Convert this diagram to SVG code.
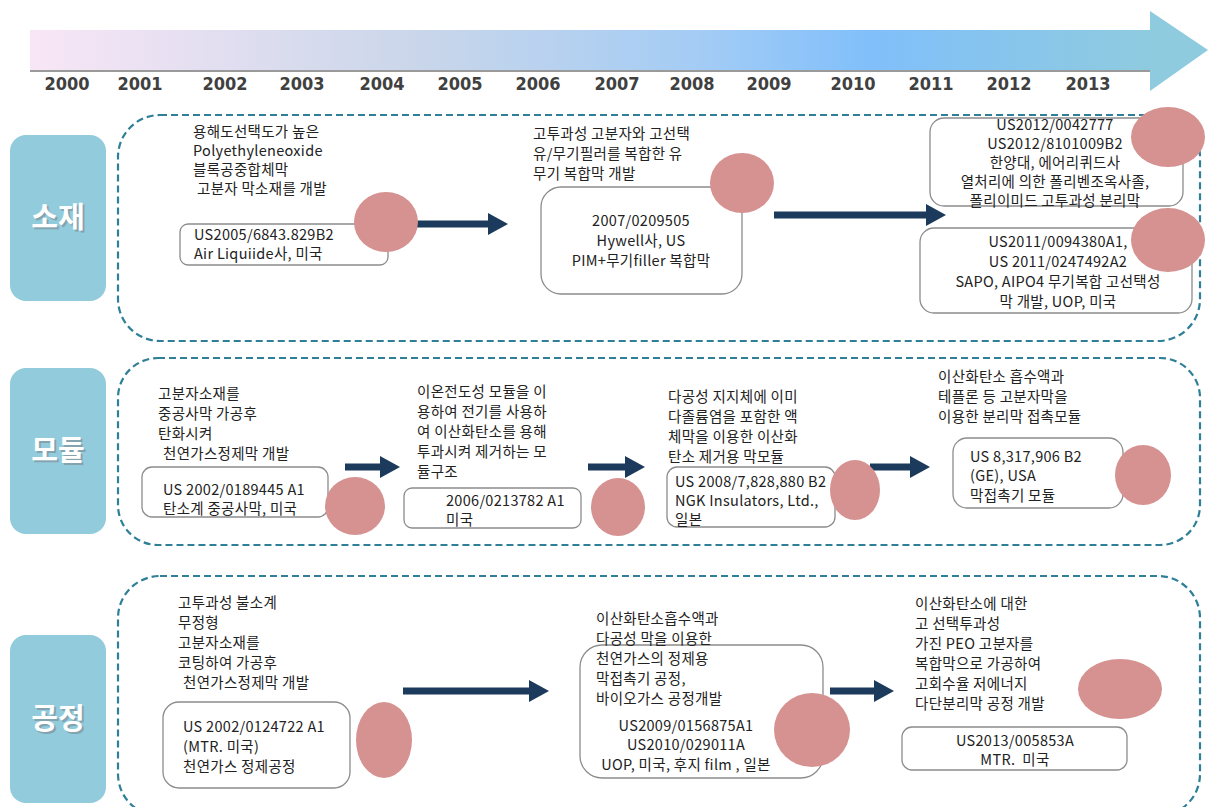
<svg xmlns="http://www.w3.org/2000/svg" width="1208" height="807" viewBox="0 0 1208 807">
<defs>
<linearGradient id="tl" x1="0" y1="0" x2="1" y2="0">
<stop offset="0" stop-color="#f8e6f6"/>
<stop offset="0.35" stop-color="#c9d6ea"/>
<stop offset="0.6" stop-color="#a3ccf5"/>
<stop offset="0.75" stop-color="#80bffa"/>
<stop offset="1" stop-color="#8fcbdf"/>
</linearGradient>
<marker id="ah" markerUnits="userSpaceOnUse" markerWidth="20" markerHeight="22" refX="2" refY="11" orient="auto">
<path d="M0,0 L20,11 L0,22 Z" fill="#1b3a5c"/>
</marker>
</defs>
<style>
.yr{font-family:"DejaVu Sans Condensed","Liberation Sans",sans-serif;font-weight:bold;font-stretch:condensed;font-size:18px;fill:#404040;text-anchor:middle}
.cat{fill:#92cbdc}
.catt{font-family:"Noto Sans CJK KR",sans-serif;font-weight:bold;font-size:29px;fill:#ffffff;text-anchor:middle}
.cats{font-family:"Noto Sans CJK KR",sans-serif;font-weight:bold;font-size:29px;fill:#7a8a90;text-anchor:middle;opacity:0.6}
.grp{fill:none;stroke:#2e7f97;stroke-width:2.2;stroke-dasharray:7,4}
.box{fill:#ffffff;stroke:#8c8c8c;stroke-width:1.3}
.t{font-family:"Noto Sans CJK KR","Liberation Sans",sans-serif;font-size:14.5px;letter-spacing:0.3px;fill:#222222}
.c{text-anchor:middle}
.dot{fill:#d69191}
.arr{stroke:#1b3a5c;stroke-width:7;fill:none}
</style>

<g id="timeline">
<rect x="30" y="30" width="1122" height="40" fill="url(#tl)"/>
<line x1="30" y1="71" x2="1150" y2="71" stroke="#9a9a9a" stroke-width="2"/>
<polygon points="1150,11 1208,50 1150,91" fill="#8fcbdf"/>
<text class="yr" x="67" y="90">2000</text>
<text class="yr" x="140" y="90">2001</text>
<text class="yr" x="225" y="90">2002</text>
<text class="yr" x="302" y="90">2003</text>
<text class="yr" x="382" y="90">2004</text>
<text class="yr" x="460" y="90">2005</text>
<text class="yr" x="538" y="90">2006</text>
<text class="yr" x="617" y="90">2007</text>
<text class="yr" x="692" y="90">2008</text>
<text class="yr" x="769" y="90">2009</text>
<text class="yr" x="853" y="90">2010</text>
<text class="yr" x="931" y="90">2011</text>
<text class="yr" x="1009" y="90">2012</text>
<text class="yr" x="1088" y="90">2013</text>
</g>

<g id="cat-material">
<rect class="cat" x="10" y="135" width="96" height="166" rx="16"/>
<text class="cats" x="60" y="230">소재</text>
<text class="catt" x="58" y="228">소재</text>
</g>
<g id="cat-module">
<rect class="cat" x="10" y="368" width="96" height="166" rx="16"/>
<text class="cats" x="60" y="463">모듈</text>
<text class="catt" x="58" y="461">모듈</text>
</g>
<g id="cat-process">
<rect class="cat" x="10" y="635" width="96" height="168" rx="16"/>
<text class="cats" x="60" y="731">공정</text>
<text class="catt" x="58" y="729">공정</text>
</g>

<g id="group-material"><rect class="grp" x="118" y="115" width="1082" height="226" rx="42"/></g>
<g id="group-module"><rect class="grp" x="118" y="358" width="1082" height="187" rx="40"/></g>
<g id="group-process"><rect class="grp" x="118" y="576" width="1082" height="240" rx="42"/></g>

<g id="connectors">
<line class="arr" x1="413" y1="224" x2="490" y2="224" marker-end="url(#ah)"/>
<line class="arr" x1="774" y1="215" x2="928" y2="215" marker-end="url(#ah)"/>
<line class="arr" x1="345" y1="467" x2="382" y2="467" marker-end="url(#ah)"/>
<line class="arr" x1="588" y1="467" x2="627" y2="467" marker-end="url(#ah)"/>
<line class="arr" x1="870" y1="467" x2="912" y2="467" marker-end="url(#ah)"/>
<line class="arr" x1="403" y1="691" x2="531" y2="691" marker-end="url(#ah)"/>
<line class="arr" x1="830" y1="691" x2="876" y2="691" marker-end="url(#ah)"/>
</g>

<g id="m1">
<text class="t" x="193" y="137">용해도선택도가 높은</text>
<text class="t" x="193" y="156">Polyethyleneoxide</text>
<text class="t" x="193" y="175">블록공중합체막</text>
<text class="t" x="197" y="194">고분자 막소재를 개발</text>
<rect class="box" x="180" y="224" width="208" height="41" rx="8"/>
<text class="t" x="194" y="240">US2005/6843.829B2</text>
<text class="t" x="194" y="259">Air Liquiide사, 미국</text>
<ellipse class="dot" cx="386" cy="222" rx="32" ry="30"/>
</g>

<g id="m2">
<text class="t" x="533" y="139">고투과성 고분자와 고선택</text>
<text class="t" x="533" y="159">유/무기필러를 복합한 유</text>
<text class="t" x="533" y="179">무기 복합막 개발</text>
<rect class="box" x="541" y="187" width="201" height="107" rx="20"/>
<text class="t c" x="641" y="226">2007/0209505</text>
<text class="t c" x="641" y="246">Hywell사, US</text>
<text class="t c" x="641" y="266">PIM+무기filler 복합막</text>
<ellipse class="dot" cx="742" cy="183" rx="32" ry="30"/>
</g>

<g id="m3">
<rect class="box" x="930" y="118" width="253" height="88" rx="14"/>
<text class="t c" x="1055" y="130">US2012/0042777</text>
<text class="t c" x="1055" y="149">US2012/8101009B2</text>
<text class="t c" x="1055" y="168">한양대, 에어리퀴드사</text>
<text class="t c" x="1055" y="187">열처리에 의한 폴리벤조옥사졸,</text>
<text class="t c" x="1055" y="206">폴리이미드 고투과성 분리막</text>
<ellipse class="dot" cx="1168" cy="137" rx="37" ry="30"/>
</g>

<g id="m4">
<rect class="box" x="920" y="228" width="272" height="85" rx="14"/>
<text class="t c" x="1058" y="247">US2011/0094380A1,</text>
<text class="t c" x="1058" y="267">US 2011/0247492A2</text>
<text class="t c" x="1058" y="287">SAPO, AIPO4 무기복합 고선택성</text>
<text class="t c" x="1058" y="307">막 개발, UOP, 미국</text>
<ellipse class="dot" cx="1168" cy="240" rx="37" ry="32"/>
</g>

<g id="d1">
<text class="t" x="158" y="399">고분자소재를</text>
<text class="t" x="158" y="419">중공사막 가공후</text>
<text class="t" x="158" y="439">탄화시켜</text>
<text class="t" x="163" y="459">천연가스정제막 개발</text>
<rect class="box" x="142" y="467" width="186" height="50" rx="10"/>
<text class="t" x="163" y="495">US 2002/0189445 A1</text>
<text class="t" x="163" y="514">탄소계 중공사막, 미국</text>
<ellipse class="dot" cx="355" cy="506" rx="30" ry="29"/>
</g>

<g id="d2">
<text class="t" x="417" y="397">이온전도성 모듈을 이</text>
<text class="t" x="417" y="417">용하여 전기를 사용하</text>
<text class="t" x="417" y="437">여 이산화탄소를 용해</text>
<text class="t" x="417" y="457">투과시켜 제거하는 모</text>
<text class="t" x="417" y="477">듈구조</text>
<rect class="box" x="404" y="488" width="177" height="40" rx="8"/>
<text class="t" x="446" y="506">2006/0213782 A1</text>
<text class="t" x="446" y="525">미국</text>
<ellipse class="dot" cx="618" cy="507" rx="27" ry="29"/>
</g>

<g id="d3">
<text class="t" x="668" y="402">다공성 지지체에 이미</text>
<text class="t" x="668" y="422">다졸륨염을 포함한 액</text>
<text class="t" x="668" y="442">체막을 이용한 이산화</text>
<text class="t" x="668" y="462">탄소 제거용 막모듈</text>
<rect class="box" x="667" y="467" width="168" height="60" rx="10"/>
<text class="t" x="675" y="487">US 2008/7,828,880 B2</text>
<text class="t" x="675" y="506">NGK Insulators, Ltd.,</text>
<text class="t" x="675" y="525">일본</text>
<ellipse class="dot" cx="855" cy="490" rx="25" ry="30"/>
</g>

<g id="d4">
<text class="t" x="938" y="382">이산화탄소 흡수액과</text>
<text class="t" x="938" y="402">테플론 등 고분자막을</text>
<text class="t" x="938" y="422">이용한 분리막 접촉모듈</text>
<rect class="box" x="953" y="438" width="170" height="70" rx="14"/>
<text class="t" x="970" y="462">US 8,317,906 B2</text>
<text class="t" x="970" y="481">(GE), USA</text>
<text class="t" x="970" y="501">막접촉기 모듈</text>
<ellipse class="dot" cx="1143" cy="475" rx="28" ry="30"/>
</g>

<g id="p1">
<text class="t" x="178" y="608">고투과성 불소계</text>
<text class="t" x="178" y="628">무정형</text>
<text class="t" x="178" y="648">고분자소재를</text>
<text class="t" x="178" y="668">코팅하여 가공후</text>
<text class="t" x="183" y="688">천연가스정제막 개발</text>
<rect class="box" x="163" y="702" width="187" height="86" rx="16"/>
<text class="t" x="183" y="732">US 2002/0124722 A1</text>
<text class="t" x="183" y="752">(MTR. 미국)</text>
<text class="t" x="183" y="772">천연가스 정제공정</text>
<ellipse class="dot" cx="384" cy="740" rx="28" ry="38"/>
</g>

<g id="p2">
<rect class="box" x="580" y="645" width="243" height="133" rx="22"/>
<text class="t" x="596" y="624">이산화탄소흡수액과</text>
<text class="t" x="596" y="644">다공성 막을 이용한</text>
<text class="t" x="596" y="664">천연가스의 정제용</text>
<text class="t" x="596" y="684">막접촉기 공정,</text>
<text class="t" x="596" y="704">바이오가스 공정개발</text>
<text class="t c" x="686" y="731">US2009/0156875A1</text>
<text class="t c" x="686" y="750">US2010/029011A</text>
<text class="t c" x="686" y="770">UOP, 미국, 후지 film , 일본</text>
<ellipse class="dot" cx="812" cy="730" rx="38" ry="37"/>
</g>

<g id="p3">
<text class="t" x="915" y="609">이산화탄소에 대한</text>
<text class="t" x="915" y="629">고 선택투과성</text>
<text class="t" x="915" y="649">가진 PEO 고분자를</text>
<text class="t" x="915" y="669">복합막으로 가공하여</text>
<text class="t" x="915" y="689">고회수율 저에너지</text>
<text class="t" x="915" y="709">다단분리막 공정 개발</text>
<ellipse class="dot" cx="1120" cy="689" rx="42" ry="30"/>
<rect class="box" x="902" y="727" width="225" height="43" rx="10"/>
<text class="t c" x="1015" y="746">US2013/005853A</text>
<text class="t c" x="1015" y="765" xml:space="preserve">MTR.  미국</text>
</g>
</svg>
